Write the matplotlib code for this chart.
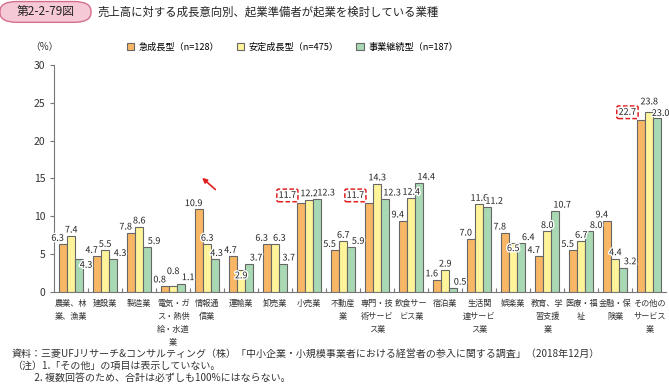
import matplotlib
matplotlib.use("Agg")
import matplotlib.pyplot as plt
import matplotlib.patheffects as pe
from matplotlib.patches import FancyBboxPatch
import numpy as np

plt.rcParams['font.family'] = ['Noto Sans CJK JP', 'DejaVu Sans']

categories = ["農業、林\n業、漁業", "建設業", "製造業", "電気・ガ\nス・熱供\n給・水道\n業",
              "情報通\n信業", "運輸業", "卸売業", "小売業", "不動産\n業",
              "専門・技\n術サービ\nス業", "飲食サー\nビス業", "宿泊業", "生活関\n連サービ\nス業",
              "娯楽業", "教育、学\n習支援\n業", "医療・福\n祉", "金融・保\n険業", "その他の\nサービス\n業"]
rapid = [6.3, 4.7, 7.8, 0.8, 10.9, 4.7, 6.3, 11.7, 5.5, 11.7, 9.4, 1.6, 7.0, 7.8, 4.7, 5.5, 9.4, 22.7]
stable = [7.4, 5.5, 8.6, 0.8, 6.3, 2.9, 6.3, 12.2, 6.7, 14.3, 12.4, 2.9, 11.6, 6.5, 8.0, 6.7, 4.4, 23.8]
continuing = [4.3, 4.3, 5.9, 1.1, 4.3, 3.7, 3.7, 12.3, 5.9, 12.3, 14.4, 0.5, 11.2, 6.4, 10.7, 8.0, 3.2, 23.0]
series_names = ["急成長型（n=128）", "安定成長型（n=475）", "事業継続型（n=187）"]
highlight = [(0, 7), (0, 9), (0, 17)]  # (series, category) boxed in red

colors = ["#F9B766", "#FFF49A", "#A9D9B4"]

# label nudges (points): default by series, plus a few special cases
base_dx = [-4, 0, 5]
inside = [(2, 0), (1, 5), (1, 13)]   # labels drawn over the bar top
nudge = {(1, 3): (0, 7), (2, 4): (1, 1), (0, 5): (-2, 1), (2, 7): (6.5, 1),
         (1, 6): (3, 1), (2, 6): (4, 1), (1, 17): (0, 4), (2, 17): (2.5, 0)}

fig = plt.figure(figsize=(6.69, 3.85), dpi=100)
ax = fig.add_axes([0.081, 0.242, 0.915, 0.589])

x = np.arange(len(categories))
w = 0.235
data = [rapid, stable, continuing]
for i, vals in enumerate(data):
    xs = x + (i - 1) * w
    ax.bar(xs, vals, w, color=colors[i], edgecolor="#666666", linewidth=0.8,
           label=series_names[i], zorder=2)
    for j, v in enumerate(vals):
        dx, dy, va = base_dx[i], 1.0, "bottom"
        if (i, j) in highlight:
            dx, dy = -10, 2.5
        if (i, j) in inside:
            dy, va = -1.0, "top"
        if (i, j) in nudge:
            dx, dy = nudge[(i, j)]
        t = ax.annotate(f"{v:.1f}", (xs[j], v), xytext=(dx, dy), textcoords="offset points",
                        ha="center", va=va, fontsize=6.5, color="#222222", zorder=4)
        t.set_path_effects([pe.withStroke(linewidth=2, foreground="white")])
        if (i, j) in highlight:
            t.set_bbox(dict(boxstyle="round,pad=0.2", facecolor="white", edgecolor="#E02020",
                            linestyle=(0, (3, 1.5)), linewidth=1.1))

ax.set_xlim(-0.5, len(categories) - 0.5)
ax.set_ylim(0, 30)
ax.set_yticks(range(0, 31, 5))
ax.set_xticks(x)
ax.set_xticklabels(categories, fontsize=5.9, va="top", ha="center", linespacing=1.6)
ax.tick_params(axis="x", length=0, pad=5, colors="#333333")
ax.tick_params(axis="y", length=3, width=0.8, color="#777777", labelsize=7.5, labelcolor="#333333")
ax.set_xticks(np.arange(0.5, len(categories) - 0.5, 1), minor=True)
ax.tick_params(axis="x", which="minor", direction="in", length=3, width=0.8, color="#777777")
for s in ["top", "right"]:
    ax.spines[s].set_visible(False)
for s in ["left", "bottom"]:
    ax.spines[s].set_color("#777777")
    ax.spines[s].set_linewidth(0.8)

# legend
fig.legend(loc="center left", bbox_to_anchor=(0.19, 0.878), ncol=3, frameon=False, fontsize=6.6,
           handlelength=0.8, handleheight=0.8, columnspacing=1.9, handletextpad=0.5,
           borderpad=0, borderaxespad=0)

fig.text(0.045, 0.878, "（%）", fontsize=7, color="#333333", ha="left", va="center")

# title
box = FancyBboxPatch((0.004, 0.946), 0.128, 0.046, boxstyle="round,pad=0.004,rounding_size=0.025",
                     transform=fig.transFigure, facecolor="#F6C9D6", edgecolor="#D5708C", linewidth=1)
fig.patches.append(box)
fig.text(0.068, 0.969, "第2-2-79図", fontsize=8.5, ha="center", va="center", color="#222222")
fig.text(0.145, 0.969, "売上高に対する成長意向別、起業準備者が起業を検討している業種", fontsize=8.2,
         ha="left", va="center", color="#222222")

# arrow
ax.annotate("", xy=(0.299, 0.543), xytext=(0.325, 0.503), xycoords="figure fraction",
            textcoords="figure fraction",
            arrowprops=dict(arrowstyle="-|>", color="#E02020", lw=1.2, mutation_scale=7))

notes = ["資料：三菱UFJリサーチ&コンサルティング（株）「中小企業・小規模事業者における経営者の参入に関する調査」（2018年12月）",
         "（注）1.「その他」の項目は表示していない。",
         "　　 2. 複数回答のため、合計は必ずしも100%にはならない。"]
for k, line in enumerate(notes):
    fig.text(0.018, 0.08 - k * 0.031, line, fontsize=7.2, ha="left", va="center", color="#333333")

fig.savefig("out.png", dpi=100)
